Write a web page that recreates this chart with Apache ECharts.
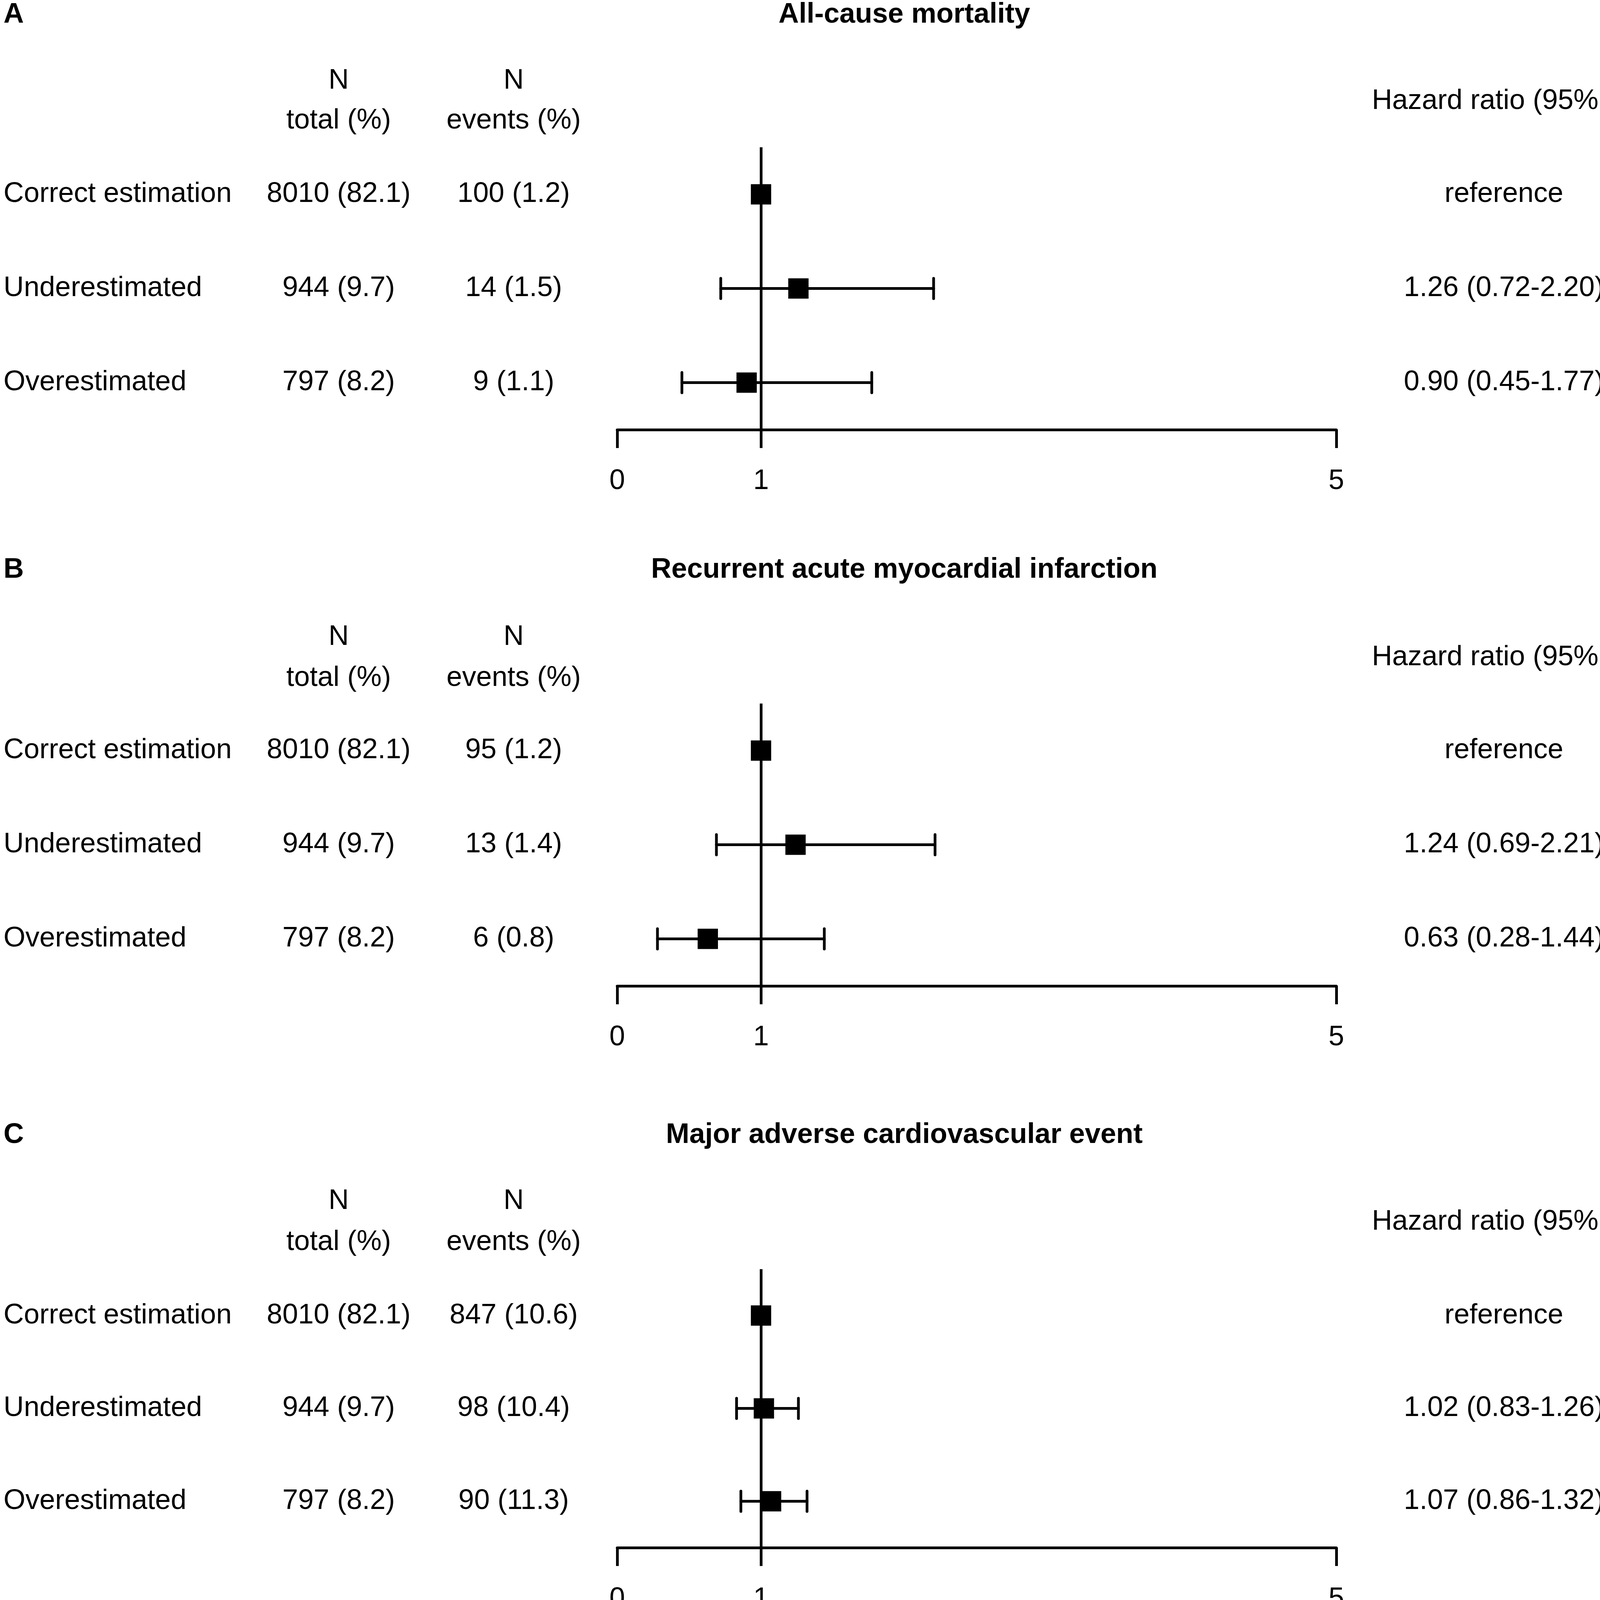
<!DOCTYPE html>
<html><head><meta charset="utf-8">
<script src="https://cdn.jsdelivr.net/npm/echarts@6/dist/echarts.min.js"></script>
<style>html,body{margin:0;padding:0;background:#fff}#c{width:4562px;height:4130px}</style>
</head><body><div id="c"></div>
<script>
// ---------- data ----------
const panelLetters = ['A', 'B', 'C'];
const panelTitles = ['All-cause mortality', 'Recurrent acute myocardial infarction', 'Major adverse cardiovascular event'];
const rowLabels = ['Correct estimation', 'Underestimated', 'Overestimated'];
const rowIndex = [0, 1, 2];
const nTotal = ['8010 (82.1)', '944 (9.7)', '797 (8.2)'];
const nEventsA = ['100 (1.2)', '14 (1.5)', '9 (1.1)'];
const nEventsB = ['95 (1.2)', '13 (1.4)', '6 (0.8)'];
const nEventsC = ['847 (10.6)', '98 (10.4)', '90 (11.3)'];
const hrA = [1.00, 1.26, 0.90];
const loA = [null, 0.72, 0.45];
const hiA = [null, 2.20, 1.77];
const hrB = [1.00, 1.24, 0.63];
const loB = [null, 0.69, 0.28];
const hiB = [null, 2.21, 1.44];
const hrC = [1.00, 1.02, 1.07];
const loC = [null, 0.83, 0.86];
const hiC = [null, 1.26, 1.32];
const hrTextA = ['reference', '1.26 (0.72-2.20)', '0.90 (0.45-1.77)'];
const hrTextB = ['reference', '1.24 (0.69-2.21)', '0.63 (0.28-1.44)'];
const hrTextC = ['reference', '1.02 (0.83-1.26)', '1.07 (0.86-1.32)'];
const pTextA = ['', '0.4', '0.8'];
const pTextB = ['', '0.5', '0.3'];
const pTextC = ['', '0.9', '0.6'];
const xTicks = [0, 1, 5];
const refValue = 1;

// ---------- layout ----------
const FONT = '"Liberation Sans", Arial, Helvetica, sans-serif';
const FS = 72;
const LW = 7;
const gridTops = [377, 1801, 3249];
const gridBottoms = [1100, 2524, 3969];
const titleY = [38, 1459, 2906];
const headN_Y = [207, 1631, 3075];
const headSub_Y = [309, 1736, 3180];
const headHR_Y = [259, 1683, 3128];
const colLabelX = 9, colTotalX = 867, colEventsX = 1315, colHRX = 3850, colPX = 4414;
const titleX = 2315, letterX = 9;

const hrs = [hrA, hrB, hrC], los = [loA, loB, loC], his = [hiA, hiB, hiC];
const events = [nEventsA, nEventsB, nEventsC];
const hrTexts = [hrTextA, hrTextB, hrTextC];
const pTexts = [pTextA, pTextB, pTextC];

const chart = echarts.init(document.getElementById('c'), null, {renderer: 'canvas'});

const grids = [], xAxes = [], yAxes = [], series = [];
for (let k = 0; k < 3; k++) {
  grids.push({left: 1580, width: 1841, top: gridTops[k], height: gridBottoms[k] - gridTops[k], containLabel: false});
  xAxes.push({
    type: 'value', gridIndex: k, min: 0, max: 5, interval: 1,
    splitLine: {show: false},
    axisLine: {show: true, onZero: false, lineStyle: {color: '#000', width: LW}},
    axisTick: {show: true, customValues: xTicks, length: 47, lineStyle: {color: '#000', width: LW}},
    axisLabel: {show: true, customValues: xTicks, margin: 96, color: '#000', fontSize: FS, fontFamily: FONT}
  });
  yAxes.push({type: 'value', gridIndex: k, inverse: true, min: -0.5, max: 2.5, show: false});
  const ciData = [];
  for (let i = 0; i < 3; i++) if (los[k][i] != null) ciData.push([los[k][i], his[k][i], rowIndex[i]]);
  series.push({
    type: 'custom', xAxisIndex: k, yAxisIndex: k, z: 2, silent: true,
    encode: {x: [0, 1], y: 2},
    data: ciData,
    renderItem: function (params, api) {
      const y = api.value(2);
      const p1 = api.coord([api.value(0), y]);
      const p2 = api.coord([api.value(1), y]);
      const h = 26;
      const st = {stroke: '#000', lineWidth: LW, lineCap: 'round'};
      return {type: 'group', children: [
        {type: 'line', shape: {x1: p1[0], y1: p1[1], x2: p2[0], y2: p2[1]}, style: st},
        {type: 'line', shape: {x1: p1[0], y1: p1[1] - h, x2: p1[0], y2: p1[1] + h}, style: st},
        {type: 'line', shape: {x1: p2[0], y1: p2[1] - h, x2: p2[0], y2: p2[1] + h}, style: st}
      ]};
    },
    markLine: {
      silent: true, symbol: 'none', label: {show: false},
      lineStyle: {color: '#000', width: LW, type: 'solid'},
      data: [{xAxis: refValue}]
    }
  });
  series.push({
    type: 'scatter', xAxisIndex: k, yAxisIndex: k, z: 5, silent: true,
    symbol: 'rect', symbolSize: 52,
    itemStyle: {color: '#000', opacity: 1},
    data: hrs[k].map((v, i) => [v, rowIndex[i]])
  });
}

chart.setOption({
  backgroundColor: '#fff',
  animation: false,
  grid: grids, xAxis: xAxes, yAxis: yAxes, series: series
});

// text table built from the arrays, rows aligned through the axes
const txt = (text, x, y, align, bold) => ({
  type: 'text', x: x, y: y, silent: true,
  style: {text: text, fill: '#000', fontSize: FS, fontFamily: FONT, fontWeight: bold ? 'bold' : 'normal',
          align: align, verticalAlign: 'middle'}
});
const graphics = [];
for (let k = 0; k < 3; k++) {
  graphics.push(txt(panelLetters[k], letterX, titleY[k], 'left', true));
  graphics.push(txt(panelTitles[k], titleX, titleY[k], 'center', true));
  graphics.push(txt('N', colTotalX, headN_Y[k], 'center'));
  graphics.push(txt('total (%)', colTotalX, headSub_Y[k], 'center'));
  graphics.push(txt('N', colEventsX, headN_Y[k], 'center'));
  graphics.push(txt('events (%)', colEventsX, headSub_Y[k], 'center'));
  graphics.push(txt('Hazard ratio (95%CI)', colHRX, headHR_Y[k], 'center'));
  graphics.push(txt('P values', colPX, headHR_Y[k], 'center'));
  for (let i = 0; i < 3; i++) {
    const y = chart.convertToPixel({yAxisIndex: k}, rowIndex[i]);
    graphics.push(txt(rowLabels[i], colLabelX, y, 'left'));
    graphics.push(txt(nTotal[i], colTotalX, y, 'center'));
    graphics.push(txt(events[k][i], colEventsX, y, 'center'));
    graphics.push(txt(hrTexts[k][i], colHRX, y, 'center'));
    if (pTexts[k][i]) graphics.push(txt(pTexts[k][i], colPX, y, 'center'));
  }
}
chart.setOption({graphic: {elements: graphics}});
</script></body></html>
